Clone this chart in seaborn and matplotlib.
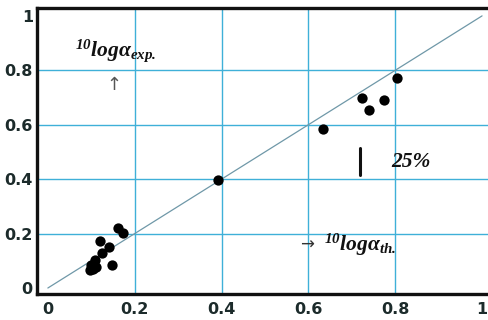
import matplotlib
matplotlib.use("Agg")
import matplotlib.pyplot as plt
import seaborn as sns
import pandas as pd

# measured vs. theoretical absorption (log10 scale)
theory = [0.803, 0.724, 0.774, 0.740, 0.633, 0.392,
          0.162, 0.172, 0.121, 0.141, 0.125, 0.147,
          0.108, 0.100, 0.112, 0.104, 0.097]
measured = [0.771, 0.697, 0.691, 0.654, 0.583, 0.397,
            0.219, 0.203, 0.172, 0.150, 0.127, 0.085,
            0.103, 0.085, 0.078, 0.069, 0.066]
ticks = [0, 0.2, 0.4, 0.6, 0.8, 1]
tick_labels = ["0", "0.2", "0.4", "0.6", "0.8", "1"]

df = pd.DataFrame({"theory": theory, "measured": measured})

sns.set_style("white")
plt.rcParams["mathtext.fontset"] = "custom"
plt.rcParams["mathtext.rm"] = "Liberation Serif:bold:italic"
plt.rcParams["mathtext.it"] = "Liberation Serif:bold:italic"
plt.rcParams["mathtext.bf"] = "Liberation Serif:bold:italic"

fig = plt.figure(figsize=(4.89, 3.20), dpi=100)
ax = fig.add_axes([37 / 489, 26 / 320, 1 - 37 / 489, (294 - 8) / 320])

grid_c = "#3fb0d8"
for t in ticks[1:-1]:
    ax.axvline(t, color=grid_c, lw=1.0, zorder=1)
    ax.axhline(t, color=grid_c, lw=1.0, zorder=1)

# 1:1 reference line
ax.plot([0, 1], [0, 1], color="#6f98a8", lw=0.9, zorder=2)

sns.scatterplot(data=df, x="theory", y="measured", ax=ax, color="black",
                s=55, edgecolor="black", linewidth=0, zorder=3, legend=False)

ax.set_xlim(-0.025, 1.016)
ax.set_ylim(-0.022, 1.029)
ax.set_xticks(ticks)
ax.set_xticklabels(tick_labels)
ax.set_yticks(ticks)
ax.set_yticklabels(tick_labels)
ax.tick_params(axis="x", length=0, labelsize=11.5, colors="#1c2b2b", pad=6)
ax.tick_params(axis="y", length=0, labelsize=11.5, colors="#1c2b2b", pad=3)
for lab in ax.get_xticklabels() + ax.get_yticklabels():
    lab.set_fontweight("bold")
ax.set_xlabel("")
ax.set_ylabel("")

for side in ("left", "bottom", "top"):
    ax.spines[side].set_color("#111111")
    ax.spines[side].set_linewidth(2.4)
ax.spines["right"].set_visible(False)

ax.text(0.062, 0.872, r"$^{10}log\alpha_{exp.}$", fontsize=15.5, color="#111111",
        ha="left", va="center")
ax.text(0.152, 0.745, "↑", fontsize=13, color="#555555", ha="center", va="center")
ax.text(0.596, 0.16, "→", fontsize=12, color="#333333", ha="center", va="center")
ax.text(0.636, 0.16, r"$^{10}log\alpha_{th.}$", fontsize=15.5, color="#111111",
        ha="left", va="center")
ax.plot([0.719, 0.719], [0.415, 0.515], color="#111111", lw=2.2, zorder=3)
ax.text(0.836, 0.463, "25%", fontsize=15.5, color="#111111",
        fontfamily="Liberation Serif", fontweight="bold", fontstyle="italic",
        ha="center", va="center")

fig.savefig("out.png", dpi=100)
